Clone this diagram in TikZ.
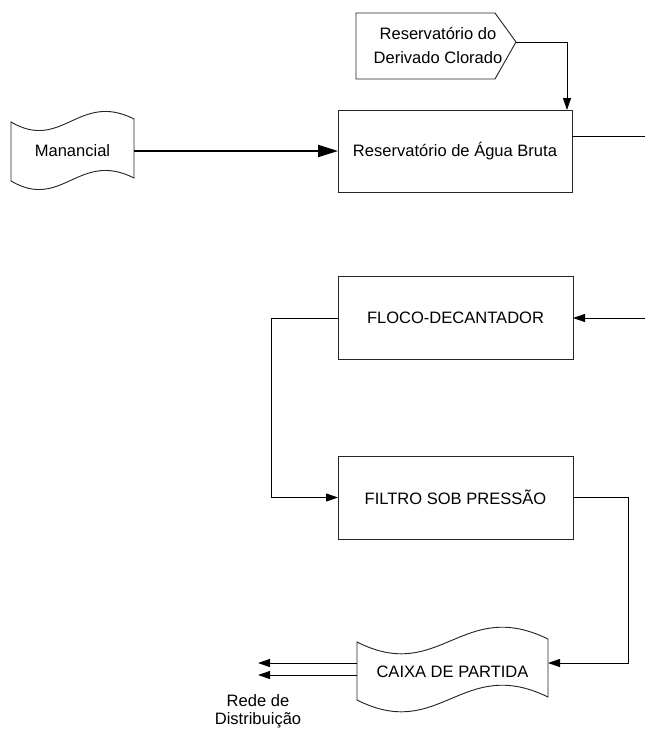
\documentclass[tikz,border=0pt]{standalone}
\usepackage{fontspec}
\setmainfont{Liberation Sans}
\usetikzlibrary{arrows.meta,calc}
\begin{document}
\begin{tikzpicture}[x=0.75pt,y=-0.75pt,
  every node/.style={font=\fontsize{12.4}{18}\selectfont, inner sep=0pt, outer sep=0pt},
  procbox/.style={draw=black!85, line width=0.7pt, rectangle, minimum width=176.25pt, minimum height=62.25pt},
  outline/.style={draw=black!85, line width=0.7pt},
  conn/.style={line width=0.75pt},
  arr/.style={conn, -{Triangle[length=9pt,width=6pt]}},
  thickarr/.style={line width=1.5pt, -{Triangle[length=15pt,width=9pt]}}]
\useasboundingbox (0,0) rectangle (645,729);

% Reservatorio do Derivado Clorado (pentagon)
\coordinate (tip) at (516,42);
\draw[outline] (356,13) -- (495,13) -- (tip) -- (495,79) -- (356,79) -- cycle;
\node[align=center] (chl) at (438,45) {Reservatório do\\Derivado Clorado};

% Manancial (tape shape)
\draw[outline] (11,122) .. controls (62,152) and (79,91) .. (134,119)
  -- (134,178) .. controls (79,150) and (62,211) .. (11,181) -- cycle;
\node[minimum width=92.25pt, minimum height=43.5pt] (man) at (72.5,151) {Manancial};

% Boxes
\node[procbox, minimum width=175.5pt, minimum height=61.5pt] (raw) at (455,151) {Reservatório de Água Bruta};
\node[procbox] (floco) at (455.5,318) {FLOCO-DECANTADOR};
\node[procbox] (filtro) at (455.5,497.5) {FILTRO SOB PRESSÃO};

% Caixa de partida (tape shape)
\draw[outline] (357,642) .. controls (440,684) and (462,597) .. (548,639)
  -- (548,697) .. controls (462,655) and (440,742) .. (357,700) -- cycle;
\node[minimum width=143.25pt, minimum height=42pt] (caixa) at (452.5,672) {CAIXA DE PARTIDA};

% Rede de Distribuicao label
\node[align=center, font=\fontsize{12.4}{13.5}\selectfont] (rede) at (258,711) {Rede de\\Distribuição};

% Connectors
\draw[thickarr] (man.east) -- (raw.west);
\draw[arr] (tip) -| ($(raw.north east)+(-5,0)$);
\coordinate (o1) at (645,136);
\draw[conn] (raw.east |- o1) -- (o1);
\coordinate (i1) at (645,318);
\draw[arr] (i1) -- (floco.east);
\draw[arr] (floco.west) -- ++(-67,0) |- (filtro.west);
\draw[arr] (filtro.east) -- ++(55,0) |- ($(caixa.east)+(0,-9)$);
\coordinate (d1) at (258,663);
\coordinate (d2) at (258,675);
\draw[arr] (caixa.west |- d1) -- (d1);
\draw[arr] (caixa.west |- d2) -- (d2);
\end{tikzpicture}
\end{document}
